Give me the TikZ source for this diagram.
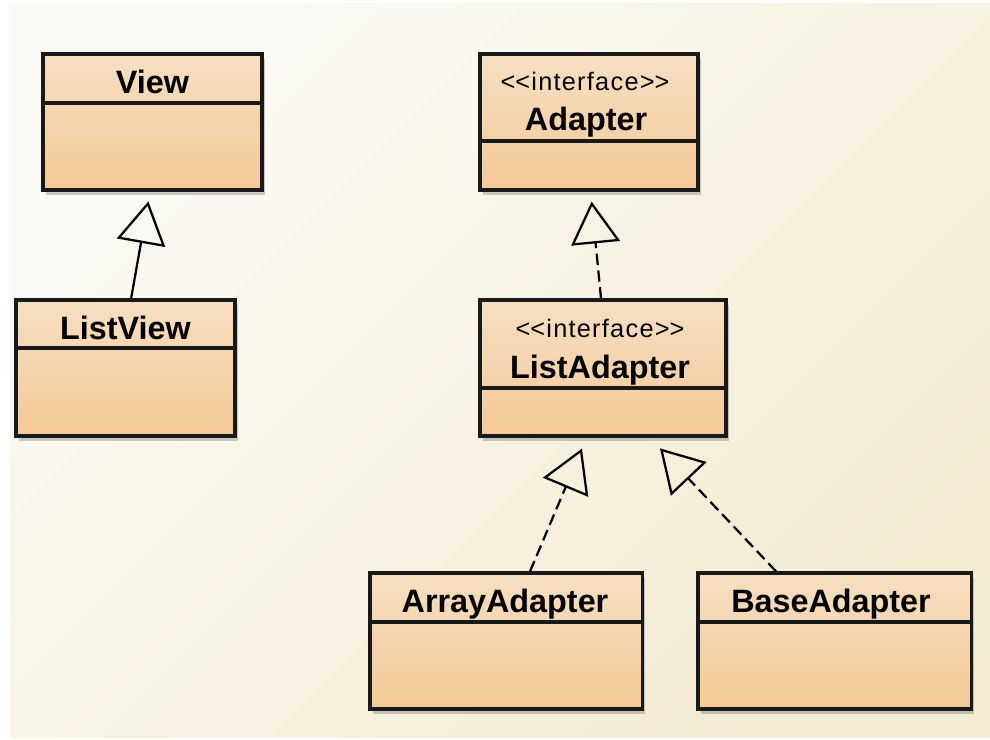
\documentclass[tikz,border=0pt]{standalone}
\usepackage{fontspec}
\setmainfont{Liberation Sans}
\newfontfamily\stereofont[LetterSpace=5]{Liberation Sans}
\usetikzlibrary{arrows.meta,shadows}
\definecolor{boxtop}{RGB}{246,223,194}
\definecolor{boxbot}{RGB}{244,201,151}
\definecolor{bgtop}{RGB}{251,250,245}
\definecolor{bgbot}{RGB}{243,235,210}
\definecolor{umlline}{RGB}{25,25,25}
\tikzset{
    classbox/.style={draw=umlline, line width=2.2pt, top color=boxtop, bottom color=boxbot,
        minimum height=3.4cm, inner sep=0pt,
        drop shadow={shadow xshift=0.08cm, shadow yshift=-0.12cm, opacity=0.28, fill=black!70}},
    classname/.style={anchor=base, inner sep=0pt, font=\bfseries\fontsize{23}{26}\selectfont},
    stereo/.style={anchor=base, inner sep=0pt, font=\stereofont\fontsize{18}{20}\selectfont},
    divider/.style={draw=umlline, line width=2.2pt},
    inherit/.style={line width=1.6pt, -{Triangle[open, length=1.05cm, width=1.22cm]}},
    realize/.style={inherit, dash pattern=on 8pt off 4pt},
}
\begin{document}
\begin{tikzpicture}[x=0.025cm, y=-0.025cm]
                \useasboundingbox (0,0) rectangle (990,739);
                \fill[white] (0,0) rectangle (990,739);
                \shade[top color=bgtop, bottom color=bgbot, shading angle=45]
                    (10,3) rectangle (990,737);
                % classes
                \node[classbox, minimum width=5.475cm] (view) at (152.5,122) {};
                \draw[divider] (view.west |- 0,103) -- (view.east |- 0,103);
                \node[classname] (viewname) at (152.5,93) {View};
                \node[classbox, minimum width=5.475cm] (listview) at (125.5,368) {};
                \draw[divider] (listview.west |- 0,348) -- (listview.east |- 0,348);
                \node[classname] (listviewname) at (125.5,339) {ListView};
                \node[classbox, minimum width=5.45cm] (adapter) at (589,122) {};
                \draw[divider] (adapter.west |- 0,141) -- (adapter.east |- 0,141);
                \node[stereo] (adapterstereo) at (585,90) {<\kern0pt<interface>\kern0pt>};
                \node[classname] (adaptername) at (586,130) {Adapter};
                \node[classbox, minimum width=6.15cm] (listadapter) at (603,368) {};
                \draw[divider] (listadapter.west |- 0,388) -- (listadapter.east |- 0,388);
                \node[stereo] (listadapterstereo) at (600,337) {<\kern0pt<interface>\kern0pt>};
                \node[classname] (listadaptername) at (600,378) {ListAdapter};
                \node[classbox, minimum width=6.8cm] (arrayadapter) at (506,641) {};
                \draw[divider] (arrayadapter.west |- 0,622) -- (arrayadapter.east |- 0,622);
                \node[classname] (arrayadaptername) at (505,612) {ArrayAdapter};
                \node[classbox, minimum width=6.825cm] (baseadapter) at (834.5,641) {};
                \draw[divider] (baseadapter.west |- 0,622) -- (baseadapter.east |- 0,622);
                \node[classname] (baseadaptername) at (831,612) {BaseAdapter};
                % relations
                \draw[inherit, shorten >=0.25cm]
                    ([xshift=0.14cm]listview.north) -- ([xshift=-0.06cm]view.south);
                \draw[realize, shorten >=0.25cm]
                    ([xshift=-0.05cm]listadapter.north) -- ([xshift=0.04cm]adapter.south);
                \draw[realize, shorten >=0.3cm]
                    ([xshift=0.6cm]arrayadapter.north) -- ([xshift=-0.41cm]listadapter.south);
                \draw[realize, shorten >=0.37cm]
                    ([xshift=-1.46cm]baseadapter.north) -- ([xshift=1.17cm]listadapter.south);
            \end{tikzpicture}
\end{document}
